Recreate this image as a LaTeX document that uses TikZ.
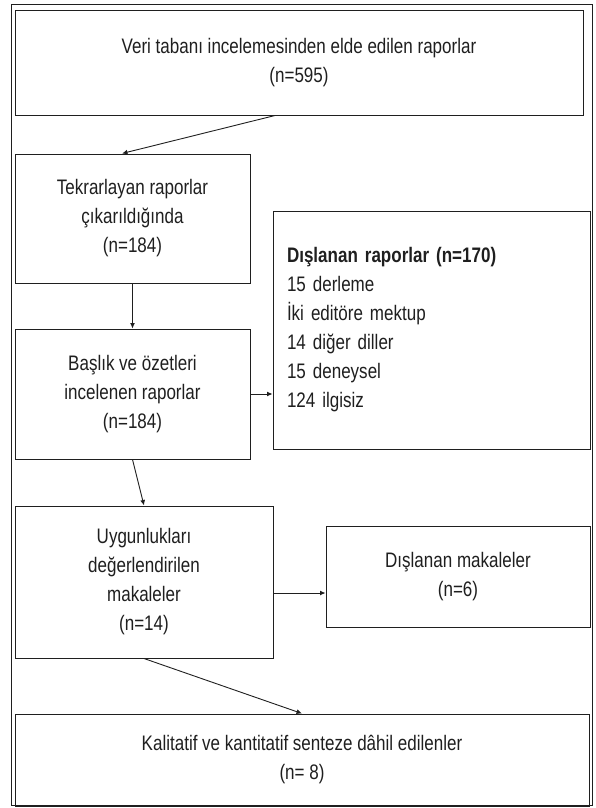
\documentclass[tikz,border=0pt]{standalone}
\usepackage{fontspec}
\setmainfont{Liberation Sans}[FakeStretch=0.81]
\usetikzlibrary{arrows.meta}
\definecolor{ink}{gray}{0.12}
\tikzstyle{box} = [draw=ink, line width=1pt, inner sep=0pt, align=center, text=ink, font={\fontsize{21}{29}\selectfont}]
\tikzstyle{flow} = [draw=ink, line width=0.9pt, -{Latex[length=5.5pt,width=5pt]}]

\begin{document}
\begin{tikzpicture}[x=1pt,y=-1pt]
  \useasboundingbox (0,0) rectangle (595,808);
  \draw[ink, line width=1pt] (11.5,4.5) rectangle (592.5,805);
  \node[box, minimum width=568pt, minimum height=104pt](veri) at (299,63)
    {Veri tabanı incelemesinden elde edilen raporlar\\(n=595)};
  \node[box, minimum width=235pt, minimum height=129pt](tekrar) at (132.5,218.5)
    {Tekrarlayan raporlar\\çıkarıldığında\\(n=184)};
  \node[box, minimum width=235pt, minimum height=130pt](baslik) at (132.5,394)
    {Başlık ve özetleri\\incelenen raporlar\\(n=184)};
  \node[box, minimum width=317pt, minimum height=238pt, text width=289pt, align=left](raporlar) at (431.5,330)
    {\textbf{Dışlanan raporlar (n=170)}\\15 derleme\\İki editöre mektup\\14 diğer diller\\15 deneysel\\124 ilgisiz};
  \node[box, minimum width=258pt, minimum height=152pt](uygun) at (144,582)
    {Uygunlukları\\değerlendirilen\\makaleler\\(n=14)};
  \node[box, minimum width=264pt, minimum height=101pt](makaleler) at (458,577)
    {Dışlanan makaleler\\(n=6)};
  \node[box, minimum width=574pt, minimum height=92pt](sentez) at (302,760)
    {Kalitatif ve kantitatif senteze dâhil edilenler\\(n= 8)};
  \draw[flow]([xshift=-24pt]veri.south)--([xshift=-10.5pt]tekrar.north);
  \draw[flow](tekrar)--(baslik);
  \draw[flow](baslik.east)--(baslik.east -| raporlar.west);
  \draw[flow](baslik.south)--(uygun.north);
  \draw[flow]([yshift=-11pt]uygun.east)--([yshift=-11pt]uygun.east -| makaleler.west);
  \draw[flow](uygun.south)--(sentez.north);
\end{tikzpicture}
\end{document}
